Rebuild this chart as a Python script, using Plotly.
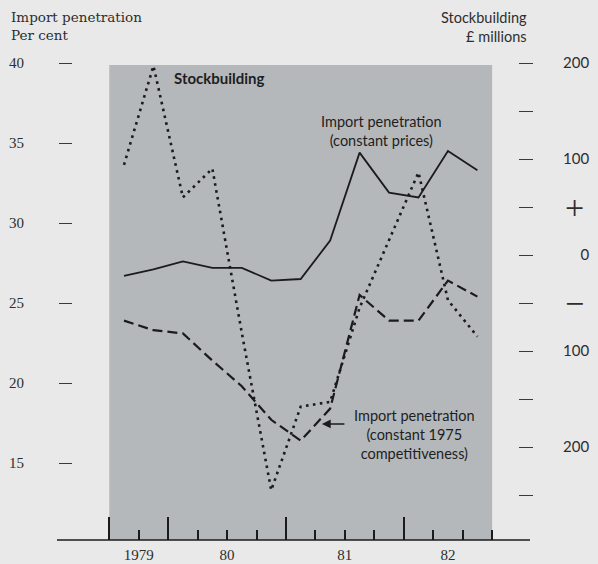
import plotly.graph_objects as go

# ---------------- data ----------------
quarters = ["1979 Q3", "1979 Q4", "1980 Q1", "1980 Q2", "1980 Q3", "1980 Q4",
            "1981 Q1", "1981 Q2", "1981 Q3", "1981 Q4", "1982 Q1", "1982 Q2", "1982 Q3"]
import_constant_prices = [26.7, 27.1, 27.6, 27.2, 27.2, 26.4, 26.5, 28.9, 34.4, 31.9, 31.6, 34.5, 33.3]
import_constant_1975 = [23.9, 23.3, 23.1, 21.4, 19.8, 17.7, 16.4, 18.4, 25.5, 23.9, 23.9, 26.4, 25.4]
stockbuilding = [94, 197, 60, 90, -81, -245, -158, -153, -55, 16, 86, -47, -85]

year_labels = ["1979", "80", "81", "82"]
left_tick_vals = [15, 20, 25, 30, 35, 40]
right_tick_vals = [200, 150, 100, 50, 0, -50, -100, -150, -200, -250]
right_tick_text = ["200", "", "100", "", "\u2007\u20070", "", "100", "", "200", ""]
sign_vals = [50, -50]
sign_text = ["+", "\u2212"]

# ---------------- derived positions ----------------
x = list(range(len(quarters)))
years = [q.split()[0] for q in quarters]
uniq_years = sorted(set(years))
year_centers = [sum(i for i, y in enumerate(years) if y == yr) / years.count(yr) for yr in uniq_years]
boundaries = [i - 0.5 for i in range(len(quarters) + 1)]
major_ticks = [boundaries[0]] + [i - 0.5 for i, q in enumerate(quarters) if q.endswith("Q1")]
minor_ticks = [b for b in boundaries if b not in major_ticks]

INK = "#1b1b1b"
TXT = "#2e2e2e"
XR = [-1.7317, 13.379]
YL = [10.1875, 41.4375]
YR = [-296.875, 223.96]

fig = go.Figure()
fig.add_trace(go.Scatter(x=x, y=import_constant_prices, mode="lines", xaxis="x", yaxis="y",
                         line=dict(color=INK, width=1.8), name="Import penetration (constant prices)",
                         showlegend=False))
fig.add_trace(go.Scatter(x=x, y=import_constant_1975, mode="lines", xaxis="x2", yaxis="y",
                         line=dict(color=INK, width=2.2, dash="10px,5px"),
                         name="Import penetration (constant 1975 competitiveness)", showlegend=False))
fig.add_trace(go.Scatter(x=x, y=stockbuilding, mode="lines", xaxis="x", yaxis="y2",
                         line=dict(color=INK, width=2.6, dash="2.6px,4.4px"),
                         name="Stockbuilding", showlegend=False))
fig.add_trace(go.Scatter(x=[None], y=[None], mode="lines", xaxis="x", yaxis="y3",
                         showlegend=False, hoverinfo="skip"))

fig.update_layout(
    width=598, height=564,
    margin=dict(l=73, r=80, t=40, b=24),
    paper_bgcolor="#e8e9e8",
    plot_bgcolor="rgba(0,0,0,0)",
    showlegend=False,
    hovermode=False,
    xaxis=dict(range=XR, showgrid=False, zeroline=False, showline=False, automargin=False,
               tickmode="array", tickvals=major_ticks, showticklabels=False,
               ticks="inside", ticklen=23, tickwidth=1.6, tickcolor=INK,
               minor=dict(tickmode="array", tickvals=minor_ticks, ticks="inside",
                          ticklen=10, tickwidth=1.6, tickcolor=INK, showgrid=False)),
    xaxis2=dict(range=XR, overlaying="x", side="bottom", anchor="y", showgrid=False,
                zeroline=False, showline=False, ticks="", tickmode="array", automargin=False,
                tickvals=year_centers, ticktext=year_labels,
                tickfont=dict(family="Liberation Serif", size=15, color=TXT),
                ticklabelstandoff=4),
    yaxis=dict(range=YL, showgrid=False, zeroline=False, showline=False, automargin=False,
               tickmode="array", tickvals=left_tick_vals, ticks="outside",
               ticklen=13, tickwidth=1.3, tickcolor="#3a3a3a",
               tickfont=dict(family="Liberation Serif", size=15, color=TXT),
               ticklabelstandoff=32),
    yaxis2=dict(range=YR, overlaying="y", side="right", anchor="x", showgrid=False,
                zeroline=False, showline=False, tickmode="array", automargin=False,
                tickvals=right_tick_vals, ticktext=right_tick_text, ticks="outside",
                ticklen=14, tickwidth=1.3, tickcolor="#3a3a3a",
                tickfont=dict(family="Lato", size=15, color=TXT),
                ticklabelstandoff=27),
    yaxis3=dict(range=YR, overlaying="y", side="right", anchor="x", showgrid=False,
                zeroline=False, showline=False, tickmode="array", automargin=False,
                tickvals=sign_vals, ticktext=sign_text, ticks="",
                tickfont=dict(family="Liberation Serif", size=34, color=TXT),
                ticklabelstandoff=46),
)

# grey panel behind the lines
fig.add_shape(type="rect", xref="x", yref="paper", x0=boundaries[0], x1=boundaries[-1],
              y0=0, y1=0.95, fillcolor="#b4b8bb", line=dict(width=0), layer="below")
# baseline
fig.add_shape(type="line", xref="paper", yref="paper", x0=-0.036, x1=1.027, y0=0, y1=0,
              line=dict(color=INK, width=1.6))

# headers
fig.add_annotation(text="Import penetration<br>Per cent", x=-0.143, y=1.028, xref="paper",
                   yref="paper", xanchor="left", yanchor="middle", align="left", showarrow=False,
                   font=dict(family="DejaVu Serif", size=13.5, color=TXT))
fig.add_annotation(text="Stockbuilding<br>£ millions", x=1.0247, y=1.026, xref="paper",
                   yref="paper", xanchor="right", yanchor="middle", align="right", showarrow=False,
                   font=dict(family="Lato", size=14.5, color=TXT))

# in-panel labels
lab_font = dict(family="Lato", size=14.5, color="#1e1e1e")
fig.add_annotation(text="<b>Stockbuilding</b>", x=1.63, y=39.06, xref="x", yref="y",
                   xanchor="left", yanchor="middle", showarrow=False,
                   font=dict(family="Lato", size=15, color="#1e1e1e"))
fig.add_annotation(text="Import penetration<br>(constant prices)", x=8.73, y=35.75,
                   xref="x", yref="y", xanchor="center", yanchor="middle", align="center",
                   showarrow=False, font=lab_font)
fig.add_annotation(text="Import penetration<br>(constant 1975<br>competitiveness)", x=9.85, y=16.81,
                   xref="x", yref="y", xanchor="center", yanchor="middle", align="center",
                   showarrow=False, font=lab_font)
fig.add_annotation(text="", x=6.72, y=17.44, xref="x", yref="y", ax=24, ay=0,
                   showarrow=True, arrowhead=2, arrowsize=1.1, arrowwidth=1.6, arrowcolor=INK)

# the page's default 8px body margin would shift the figure; remove it
fig.write_html("out.html", config={"displayModeBar": False},
               post_script="document.body.style.margin='0px';")
